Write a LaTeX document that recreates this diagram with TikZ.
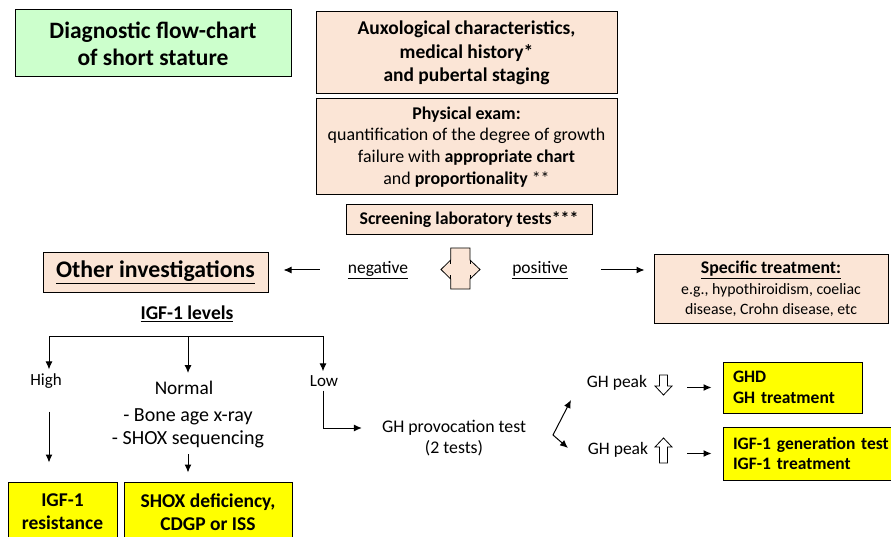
\documentclass[tikz,border=0pt]{standalone}
\usepackage{fontspec}
\setmainfont{Carlito}
\usetikzlibrary{arrows,arrows.meta}
\definecolor{peach}{RGB}{251,229,214}
\definecolor{mint}{RGB}{204,255,204}
\definecolor{lemon}{RGB}{255,255,0}

\begin{document}
\begin{tikzpicture}[x=1pt,y=-1pt]
      \tikzstyle{frame} = [draw, line width=1pt, align=center, inner sep=2pt]
      \tikzstyle{salmon} = [frame, fill=peach]
      \tikzstyle{result} = [frame, fill=lemon, font=\fontsize{19.5}{23}\selectfont\bfseries]
      \tikzstyle{gain} = [frame, fill=lemon, align=left, inner xsep=10pt, font=\fontsize{17.5}{20.5}\selectfont\bfseries]
      \tikzstyle{plain} = [inner sep=1pt, align=center, font=\fontsize{17.5}{20}\selectfont]
      \tikzstyle{arr} = [-{Latex[length=8pt,width=7pt]}, line width=1pt]
      \tikzstyle{hollow} = [draw, fill=white, line width=0.8pt]
      \useasboundingbox (0,0) rectangle (891,537);
      \clip (0,0) rectangle (891,537);
      \begin{scope}
	\path
	node[frame, fill=mint, minimum width=276, minimum height=67, font=\fontsize{23.5}{27}\selectfont\bfseries] (title) at (153,43.5) {Diagnostic flow-chart\\of short stature}
	node[salmon, minimum width=301, minimum height=82, font=\fontsize{19.5}{23.5}\selectfont\bfseries] (auxo) at (466.5,53) {Auxological characteristics,\\medical history*\\and pubertal staging}
	node[salmon, minimum width=301, minimum height=96, font=\fontsize{17.9}{21.8}\selectfont] (exam) at (466.5,147) {\textbf{Physical exam:}\\quantification of the degree of growth\\failure with \textbf{appropriate chart}\\and \textbf{proportionality} **}
	node[salmon, minimum width=246, minimum height=30, font=\fontsize{17.8}{20}\selectfont\bfseries] (screen) at (469,220) {Screening laboratory tests***}
	node[salmon, minimum width=225, minimum height=39, font=\fontsize{23.8}{26}\selectfont\bfseries] (other) at (155.5,272.5) {\underline{Other investigations}}
	node[plain] (neg) at (378,270) {\underline{negative}}
	node[plain] (pos) at (540,270) {\underline{positive}}
	node[salmon, minimum width=234, minimum height=68, font=\fontsize{15.8}{20.5}\selectfont] (spec) at (771,289) {{\fontsize{17.8}{20.5}\selectfont\bfseries\underline{Specific treatment:}}\\e.g., hypothiroidism, coeliac\\disease, Crohn disease, etc}
	node[plain, font=\fontsize{19.5}{22}\selectfont\bfseries] (igfl) at (187,314) {\underline{IGF-1 levels}}
	node[plain, font=\fontsize{17}{20}\selectfont] (high) at (46,381) {High}
	node[plain, font=\fontsize{19.3}{22}\selectfont] (normal) at (184,388) {Normal}
	node[plain, font=\fontsize{17}{20}\selectfont] (low) at (324,381) {Low}
	node[plain, font=\fontsize{20}{23}\selectfont] (tests) at (188,428.5) {- Bone age x-ray\\- SHOX sequencing}
	node[plain, font=\fontsize{17.8}{20.5}\selectfont] (prov) at (454,438) {GH provocation test\\(2 tests)}
	node[plain] (peakhi) at (617,383) {GH peak}
	node[plain] (peaklo) at (618,450) {GH peak}
	node[gain, minimum width=139, minimum height=51, text width=119] (ghd) at (792.5,387.5) {GHD\\GH treatment}
	node[gain, minimum width=182, minimum height=53, text width=162] (igfgen) at (814,453.5) {IGF-1 generation test\\IGF-1 treatment}
	node[result, minimum width=109, minimum height=60] (igfres) at (62.5,512) {IGF-1\\resistance}
	node[result, minimum width=168, minimum height=60] (shox) at (208,512) {SHOX deficiency,\\CDGP or ISS}
	;
	% screening result: the two-way marker
	\draw[fill=peach, line width=0.8pt] (450.7,248) -- (470,248) -- (470,260) -- (480,269.5) -- (470,279) -- (470,289)
	  -- (450.7,289) -- (450.7,279) -- (441,269.5) -- (450.7,260) -- cycle;
	\draw[line width=0.8pt] (450.7,260) -- ++(0,4) (450.7,279) -- ++(0,-4) (470,260) -- ++(0,4) (470,279) -- ++(0,-4);
	\draw[arr, shorten <=27pt, shorten >=15pt] (neg.west) -- (neg.west -| other.east);
	\draw[arr, shorten <=32pt, shorten >=9pt] (pos.east) -- (pos.east -| spec.west);
	% IGF-1 branches
	\coordinate (bh) at (49,336);
	\coordinate (bl) at (323,336);
	\draw[line width=1pt] (bh) -- (bl);
	\draw[arr, shorten >=3pt] (bh) -- (bh |- high.north);
	\draw[arr, shorten >=7pt] (bh -| tests) -- (normal.north -| tests);
	\draw[arr, shorten >=3pt] (bl) -- (bl |- low.north);
	\draw[arr, shorten <=22pt, shorten >=19pt] (bh |- high.south) -- (bh |- igfres.north);
	\draw[arr, shorten <=5pt, shorten >=9pt] (tests.south) -- (tests.south |- shox.north);
	\draw[arr, shorten <=3pt, shorten >=19pt] (bl |- low.south) |- ([yshift=10pt]prov.west);
	% GH peak fork
	\coordinate (fk) at (553,435);
	\coordinate (gu) at (571,400);
	\coordinate (gd) at (568,448);
	\draw[{Latex[length=8pt,width=7pt]}-{Latex[length=8pt,width=7pt]}, line width=1pt] (gu) -- (fk) -- (gd);
	\draw[hollow] (659.5,375) -- (667.5,375) -- (667.5,386) -- (672,386) -- (663.5,395) -- (655,386) -- (659.5,386) -- cycle;
	\draw[hollow] (663.5,438) -- (672,447) -- (667.5,447) -- (667.5,463) -- (659.5,463) -- (659.5,447) -- (655,447) -- cycle;
	\draw[arr, shorten <=39pt, shorten >=11pt] (ghd.west -| peakhi.east) -- (ghd.west);
	\draw[arr, shorten <=38pt, shorten >=11pt] (igfgen.west -| peaklo.east) -- (igfgen.west);
      \end{scope}
    \end{tikzpicture}
\end{document}
